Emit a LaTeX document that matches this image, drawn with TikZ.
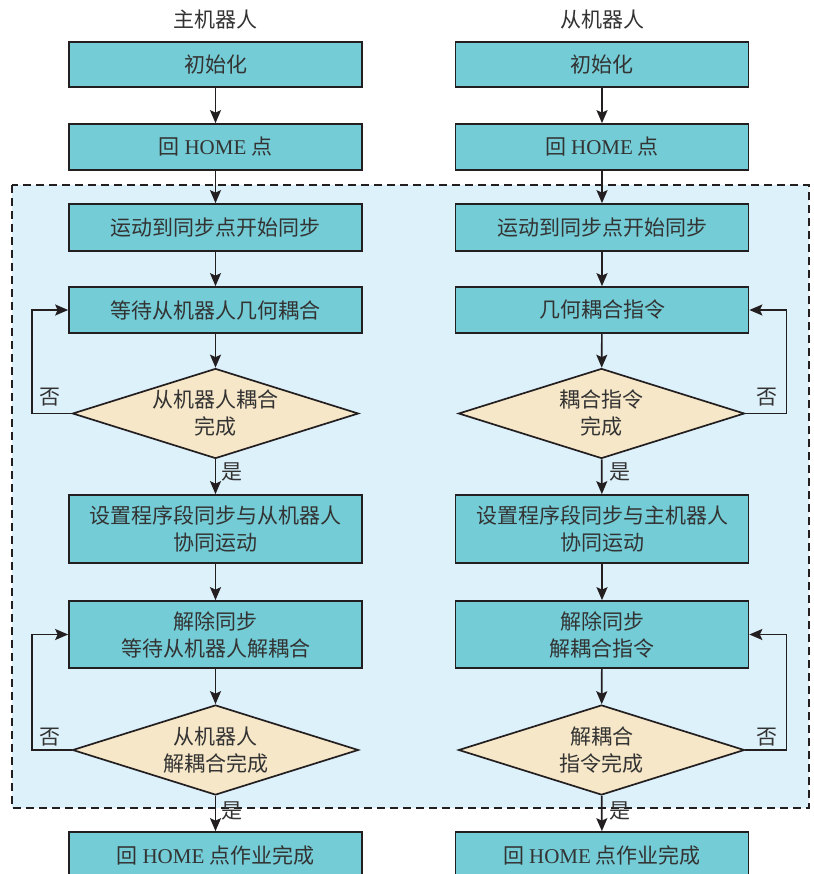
\documentclass[tikz,border=0pt]{standalone}
\usepackage{fontspec}
\setmainfont{Noto Sans CJK SC}
\newfontfamily\latf{Liberation Serif}
\usetikzlibrary{shapes.geometric,arrows.meta}
\definecolor{boxfill}{HTML}{73CCD6}
\definecolor{diafill}{HTML}{F6E7C8}
\definecolor{regfill}{HTML}{DDF1FB}
\definecolor{linec}{HTML}{231F20}
\definecolor{txtc}{HTML}{333333}
\newcommand{\HM}{{\latf HOME}}
\tikzset{
  stepbox/.style={draw=linec, line width=1.7pt, fill=boxfill, rectangle, minimum width=293pt, inner sep=0pt, align=center, text=txtc, font=\fontsize{21}{27}\selectfont},
  dia/.style={draw=linec, line width=1.7pt, fill=diafill, diamond, minimum width=286pt, minimum height=90pt, inner sep=0pt},
  diatext/.style={align=center, text=txtc, font=\fontsize{21}{27}\selectfont, inner sep=0pt},
  lab/.style={text=txtc, font=\fontsize{21}{24}\selectfont, inner sep=0pt},
  arr/.style={draw=linec, line width=1.7pt, -{Stealth[length=13pt,width=11pt,inset=2.5pt]}},
}
\begin{document}
\begin{tikzpicture}[x=1pt,y=-1pt]
\useasboundingbox (0,0) rectangle (813,874);
\fill[white] (0,0) rectangle (813,874);
% region
\draw[linec, line width=1.4pt, dash pattern=on 8pt off 5pt, fill=regfill] (12,185) rectangle (809,808);
% titles
\node[lab] (tl) at (215.5,20) {主机器人};
\node[lab] (tr) at (602,20) {从机器人};
% left column
\node[stepbox, minimum height=45pt] (l1) at (215.5,64.5) {初始化};
\node[stepbox, minimum height=46pt] (l2) at (215.5,147) {回 \HM\ 点};
\node[stepbox, minimum height=47pt] (l3) at (215.5,227.5) {运动到同步点开始同步};
\node[stepbox, minimum height=46pt] (l4) at (215.5,310) {等待从机器人几何耦合};
\node[dia] (ld1) at (215.5,413.5) {};
\node[diatext] (ld1t) at (ld1) {从机器人耦合\\完成};
\node[stepbox, minimum height=68pt] (l5) at (215.5,529) {设置程序段同步与从机器人\\协同运动};
\node[stepbox, minimum height=67pt] (l6) at (215.5,634.5) {解除同步\\等待从机器人解耦合};
\node[dia] (ld2) at (215.5,750) {};
\node[diatext] (ld2t) at (ld2) {从机器人\\解耦合完成};
\node[stepbox, minimum height=46pt] (l7) at (215.5,855) {回 \HM\ 点作业完成};
% right column
\node[stepbox, minimum height=45pt] (r1) at (602,64.5) {初始化};
\node[stepbox, minimum height=46pt] (r2) at (602,147) {回 \HM\ 点};
\node[stepbox, minimum height=47pt] (r3) at (602,227.5) {运动到同步点开始同步};
\node[stepbox, minimum height=46pt] (r4) at (602,310) {几何耦合指令};
\node[dia] (rd1) at (601.5,413.5) {};
\node[diatext] (rd1t) at (rd1) {耦合指令\\完成};
\node[stepbox, minimum height=68pt] (r5) at (602,529) {设置程序段同步与主机器人\\协同运动};
\node[stepbox, minimum height=67pt] (r6) at (602,634.5) {解除同步\\解耦合指令};
\node[dia] (rd2) at (601.5,750) {};
\node[diatext] (rd2t) at (rd2) {解耦合\\指令完成};
\node[stepbox, minimum height=46pt] (r7) at (602,855) {回 \HM\ 点作业完成};
% arrows left
\draw[arr] (l1) -- (l2);
\draw[arr] (l2) -- (l3);
\draw[arr] (l3) -- (l4);
\draw[arr] (l4) -- (ld1);
\draw[arr] (ld1) -- (l5);
\draw[arr] (l5) -- (l6);
\draw[arr] (l6) -- (ld2);
\draw[arr] (ld2) -- (l7);
\draw[arr] (ld1.west) -- ++(-40,0) |- (l4.west);
\draw[arr] (ld2.west) -- ++(-40,0) |- (l6.west);
% arrows right
\draw[arr] (r1) -- (r2);
\draw[arr] (r2) -- (r3);
\draw[arr] (r3) -- (r4);
\draw[arr] (r4) -- (rd1);
\draw[arr] (rd1) -- (r5);
\draw[arr] (r5) -- (r6);
\draw[arr] (r6) -- (rd2);
\draw[arr] (rd2) -- (r7);
\draw[arr] (rd1.east) -- ++(41,0) |- (r4.east);
\draw[arr] (rd2.east) -- ++(41,0) |- (r6.east);
% labels
\node[lab] (ln1) at (50,397) {否};
\node[lab] (ln2) at (50,737) {否};
\node[lab] (rn1) at (767,397) {否};
\node[lab] (rn2) at (767,737) {否};
\node[lab] (ly1) at (232,472) {是};
\node[lab] (ly2) at (232,811) {是};
\node[lab] (ry1) at (620,472) {是};
\node[lab] (ry2) at (620,811) {是};
\end{tikzpicture}
\end{document}
